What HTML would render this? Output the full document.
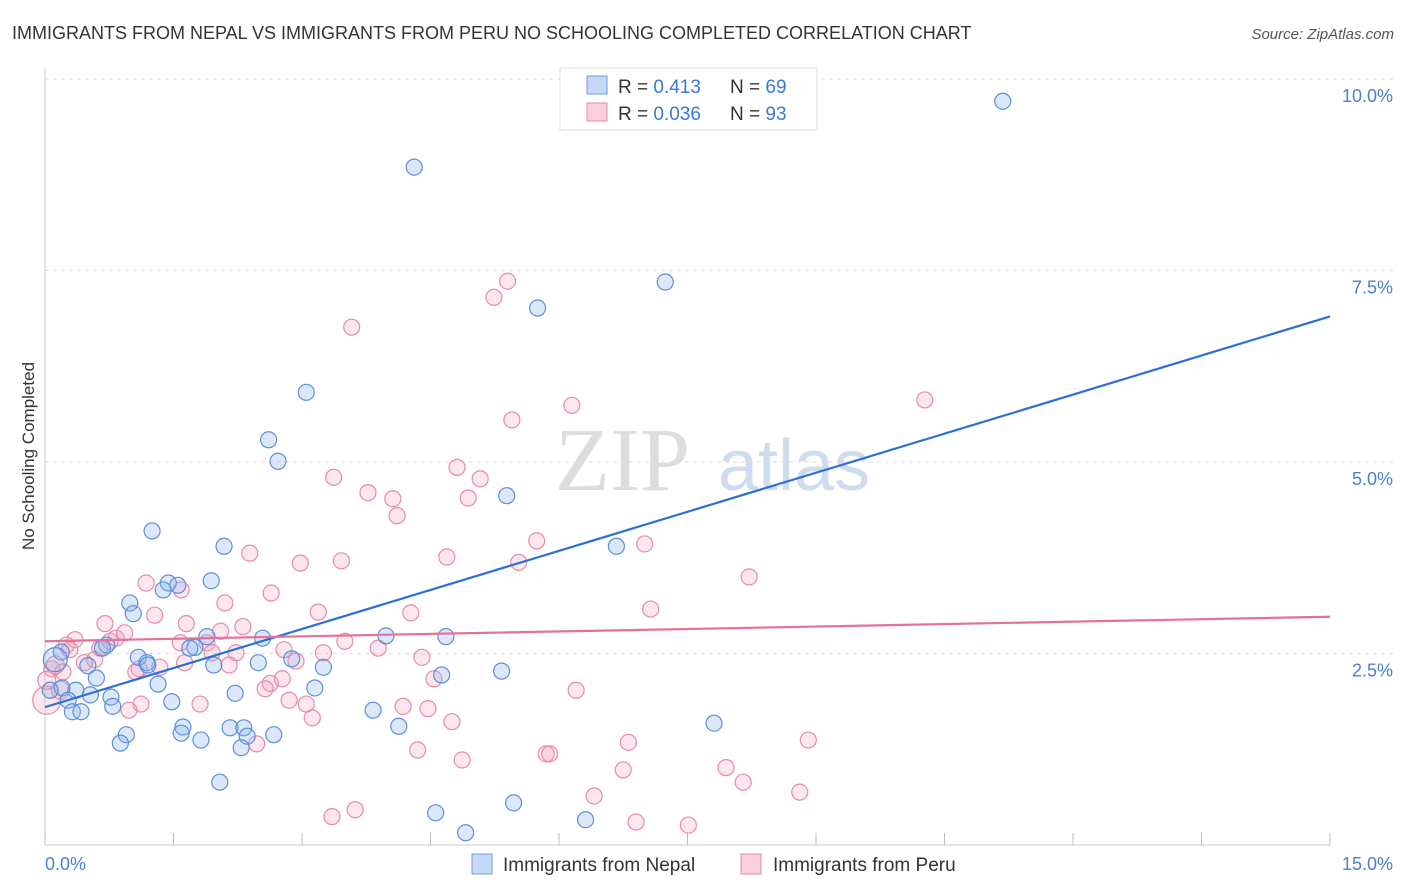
<!DOCTYPE html>
<html><head><meta charset="utf-8"><style>
body{margin:0;background:#fff;font-family:"Liberation Sans",sans-serif}
svg{display:block}
</style></head><body>
<svg id="c" width="1406" height="892">
<text x="12" y="39" font-size="18" fill="#333">IMMIGRANTS FROM NEPAL VS IMMIGRANTS FROM PERU NO SCHOOLING COMPLETED CORRELATION CHART</text>
<text x="1394" y="39" font-size="15" fill="#555" text-anchor="end" font-style="italic">Source: ZipAtlas.com</text>
<text transform="translate(34,456) rotate(-90)" font-size="17" fill="#333" text-anchor="middle">No Schooling Completed</text>
<text x="555" y="490" font-size="90" fill="#ddd" font-family="Liberation Serif,serif">ZIP</text>
<text x="718" y="490" font-size="72" fill="#cfdcef">atlas</text>
<g id="grid"></g><g id="pts"></g><g id="lines"></g>
<g>
<rect x="560" y="68" width="257" height="62" fill="#fff" stroke="#ddd"/>
<rect x="587" y="76" width="20" height="18" fill="#c5d8f5" stroke="#6f9be0"/>
<rect x="587" y="103" width="20" height="18" fill="#f9cfdc" stroke="#e98aa8"/>
<text x="618" y="93" font-size="19" fill="#333">R = <tspan fill="#3a78d8">0.413</tspan></text>
<text x="730" y="93" font-size="19" fill="#333">N = <tspan fill="#3a78d8">69</tspan></text>
<text x="618" y="120" font-size="19" fill="#333">R = <tspan fill="#3a78d8">0.036</tspan></text>
<text x="730" y="120" font-size="19" fill="#333">N = <tspan fill="#3a78d8">93</tspan></text>
</g>
<g>
<rect x="472" y="854" width="20" height="20" fill="#c5d8f5" stroke="#6f9be0"/>
<text x="503" y="871" font-size="19" fill="#333">Immigrants from Nepal</text>
<rect x="741" y="854" width="20" height="20" fill="#f9cfdc" stroke="#e98aa8"/>
<text x="773" y="871" font-size="19" fill="#333">Immigrants from Peru</text>
</g>
</svg>
<script>
const nepalX=[11.18,4.31,7.24,5.75,3.05,2.61,2.72,5.39,1.25,6.67,2.09,1.94,1.44,1.55,1.38,0.99,1.03,0.72,2.54,3.98,4.68,1.89,1.75,1.69,0.67,1.09,0.19,1.19,1.20,2.49,2.88,1.97,0.50,3.25,5.33,4.63,0.60,1.32,0.20,0.36,3.15,2.22,0.53,0.77,0.79,1.48,0.27,3.83,0.32,0.42,1.61,1.59,2.16,2.32,4.13,7.81,0.95,2.67,2.36,1.82,0.88,2.29,2.04,5.47,4.56,6.31,4.91,0.06,0.12];
const nepalY=[9.71,8.85,7.35,7.01,5.91,5.29,5.01,4.56,4.10,3.90,3.90,3.45,3.42,3.39,3.33,3.16,3.02,2.61,2.70,2.73,2.72,2.72,2.58,2.57,2.57,2.45,2.52,2.38,2.35,2.38,2.43,2.35,2.34,2.32,2.27,2.22,2.18,2.10,2.05,2.02,2.05,1.98,1.96,1.93,1.81,1.87,1.89,1.76,1.74,1.74,1.54,1.46,1.53,1.53,1.55,1.59,1.44,1.44,1.42,1.37,1.33,1.27,0.82,0.55,0.42,0.33,0.16,2.02,2.42];
const peruX=[5.40,5.24,3.58,10.27,6.15,5.45,4.81,5.08,3.37,3.77,4.06,4.94,4.11,5.74,7.00,2.39,4.69,2.98,3.46,5.53,8.22,1.18,1.59,2.64,2.10,1.28,3.19,4.27,7.07,0.70,1.65,0.93,2.05,2.31,0.76,0.83,0.35,0.25,0.29,0.64,1.89,1.58,1.95,3.50,3.89,2.79,2.23,3.25,2.93,4.40,0.58,0.46,1.63,1.34,1.10,2.15,1.06,0.08,0.21,4.54,2.77,2.63,2.57,6.20,3.05,2.85,1.12,1.81,4.18,4.47,3.12,4.75,0.98,2.47,6.81,8.91,4.35,5.85,5.89,4.87,7.95,6.75,8.15,6.41,8.81,3.62,3.35,6.90,7.51,0.02,0.02,0.12,0.18];
const peruY=[7.36,7.15,6.76,5.81,5.74,5.55,4.93,4.78,4.80,4.60,4.52,4.53,4.30,3.97,3.93,3.81,3.76,3.68,3.71,3.69,3.50,3.42,3.33,3.29,3.16,3.00,3.04,3.03,3.08,2.89,2.89,2.77,2.79,2.85,2.66,2.70,2.68,2.61,2.55,2.57,2.64,2.64,2.51,2.66,2.57,2.55,2.51,2.51,2.40,2.45,2.42,2.38,2.38,2.32,2.30,2.35,2.26,2.30,2.26,2.17,2.17,2.11,2.04,2.02,1.84,1.89,1.84,1.84,1.81,1.78,1.66,1.61,1.76,1.32,1.34,1.37,1.24,1.19,1.19,1.11,1.01,0.98,0.82,0.64,0.69,0.46,0.37,0.30,0.26,1.89,2.15,2.35,2.02];
const nepalTrend=[1.80,6.90];
const peruTrend=[2.66,2.98];
const yTicks=[2.5,5.0,7.5,10.0];
const yTickLabels=["2.5%","5.0%","7.5%","10.0%"];
const xLabels=["0.0%","15.0%"];
const NS="http://www.w3.org/2000/svg";
const sx=v=>45+v/15*1285, sy=v=>845-v/2.5*191.5;
function mk(t,a,p){const e=document.createElementNS(NS,t);for(const k in a)e.setAttribute(k,a[k]);p.appendChild(e);return e;}
const g=document.getElementById('grid');
yTicks.forEach((v,i)=>{
 const l=mk('line',{x1:45,x2:1394,y1:sy(v),y2:sy(v),stroke:'#ddd','stroke-dasharray':'4,4'},g);
 
 
 const t=mk('text',{x:1393,y:sy(v)+23,'font-size':18,fill:'#4a7fd4','text-anchor':'end'},g);t.textContent=yTickLabels[i];
 
 
});
const ax=mk('line',{x1:45,x2:45,y1:68,y2:845,stroke:'#ccc'},g);


const bx=mk('line',{x1:45,x2:1330,y1:845,y2:845,stroke:'#ccc'},g);


for(let i=0;i<=10;i++){const v=i*1.5;const tk=mk('line',{x1:sx(v),x2:sx(v),y1:833,y2:845,stroke:'#bbb'},g);
 
 }
[[0,'start',45],[15,'end',1393]].forEach((d,i)=>{const t=mk('text',{x:d[2],y:870,'font-size':18,fill:'#4a7fd4','text-anchor':d[1]},g);t.textContent=xLabels[i];
 
 });
const p=document.getElementById('pts');
peruX.forEach((x,i)=>{const r=i>=89&&i<=89?14:(i>=90?9:8);const c=mk('circle',{cx:sx(x),cy:sy(peruY[i]),r:r,fill:'rgba(244,160,188,0.25)',stroke:'#e98aa8','stroke-width':1.2},p);
 
 });
nepalX.forEach((x,i)=>{const r=i==68?12:8;const c=mk('circle',{cx:sx(x),cy:sy(nepalY[i]),r:r,fill:'rgba(140,180,235,0.3)',stroke:'#5b8fdb','stroke-width':1.2},p);
 
 });
const L=document.getElementById('lines');
const l1=mk('line',{x1:sx(0),y1:sy(nepalTrend[0]),x2:sx(15),y2:sy(nepalTrend[1]),stroke:'#2a70d8','stroke-width':2.2},L);


const l2=mk('line',{x1:sx(0),y1:sy(peruTrend[0]),x2:sx(15),y2:sy(peruTrend[1]),stroke:'#e5719a','stroke-width':2.2},L);


</script>
</body></html>
